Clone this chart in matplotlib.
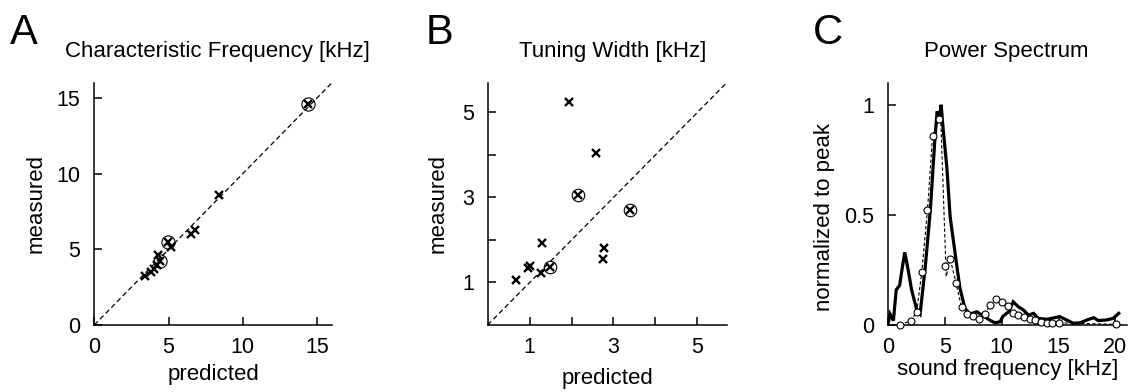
import matplotlib
matplotlib.use("Agg")
import matplotlib.pyplot as plt
from matplotlib.ticker import FixedLocator, FixedFormatter

plt.rcParams['font.family'] = ['Liberation Sans', 'DejaVu Sans']

# ---- Panel A: characteristic frequency (kHz) ----
cf_pred = [3.4, 3.8, 4.0, 4.2, 4.3, 4.4, 4.95, 5.15, 6.5, 6.8, 8.4, 14.4]
cf_meas = [3.25, 3.5, 3.7, 3.95, 4.6, 4.2, 5.45, 5.15, 6.0, 6.25, 8.6, 14.6]
cf_circ_pred = [4.4, 4.95, 14.4]
cf_circ_meas = [4.2, 5.5, 14.6]
cf_ticks = [0, 5, 10, 15]
cf_lim = 16

# ---- Panel B: tuning width (kHz) ----
tw_pred = [1.95, 2.59, 2.16, 3.40, 1.30, 2.78, 2.75, 1.01, 0.95, 1.49, 1.27, 0.67]
tw_meas = [5.24, 4.05, 3.05, 2.70, 1.93, 1.80, 1.56, 1.38, 1.33, 1.37, 1.23, 1.07]
tw_circ_pred = [2.16, 3.40, 1.49]
tw_circ_meas = [3.05, 2.70, 1.37]
tw_ticks = [1, 2, 3, 4, 5]
tw_ticklabels = ['1', '', '3', '', '5']
tw_lim = 5.7

# ---- Panel C: power spectrum ----
spec_freq = [0, 0.15, 0.45, 0.7, 1.0, 1.2, 1.45, 1.75, 2.05, 2.5, 2.8, 3.25,
             3.7, 4.1, 4.3, 4.5, 4.65, 4.85, 5.15, 5.45, 5.9, 6.3, 6.75, 7.2,
             7.8, 8.4, 9.0, 9.4, 9.85, 10.1, 10.6, 11.0, 11.45, 11.9, 12.35,
             12.8, 13.2, 14.0, 15.1, 15.7, 16.3, 16.9, 17.5, 18.1, 18.5, 19.25,
             19.8, 20.3]
spec_power = [0.01, 0.05, 0.02, 0.16, 0.18, 0.25, 0.33, 0.25, 0.16, 0.07, 0.05,
              0.26, 0.52, 0.84, 0.97, 0.94, 1.0, 0.88, 0.72, 0.49, 0.32, 0.17,
              0.075, 0.05, 0.06, 0.04, 0.02, 0.01, 0.015, 0.04, 0.06, 0.105,
              0.083, 0.068, 0.045, 0.053, 0.03, 0.026, 0.038, 0.023, 0.008,
              0.01, 0.023, 0.033, 0.02, 0.023, 0.03, 0.053]
model_freq = [1.0, 2.0, 2.5, 2.95, 3.45, 3.9, 4.45, 5.0, 5.45, 5.97, 6.45, 6.97,
              7.5, 8.0, 8.5, 8.97, 9.5, 10.0, 10.5, 10.97, 11.45, 11.97, 12.45,
              12.95, 13.45, 13.97, 14.45, 15.0, 20.05]
model_power = [0.0, 0.02, 0.06, 0.24, 0.52, 0.86, 0.935, 0.27, 0.30, 0.19, 0.08,
               0.05, 0.04, 0.027, 0.048, 0.09, 0.116, 0.105, 0.086, 0.056,
               0.045, 0.035, 0.026, 0.023, 0.015, 0.01, 0.01, 0.01, 0.003]
trace_freq = [1.0, 2.0, 2.5, 2.95, 3.45, 3.9, 4.45, 4.58, 5.1, 5.45, 5.97, 6.45,
              6.97, 7.5, 8.0, 8.5, 8.97, 9.5, 10.0, 10.5, 10.97, 11.45, 11.97,
              12.45, 12.95, 13.45, 13.97, 14.45, 15.0, 20.05]
trace_power = [0.0, 0.02, 0.06, 0.24, 0.52, 0.86, 0.935, 1.0, 0.22, 0.30, 0.19,
               0.08, 0.05, 0.04, 0.027, 0.048, 0.09, 0.116, 0.105, 0.086, 0.056,
               0.045, 0.035, 0.026, 0.023, 0.015, 0.01, 0.01, 0.01, 0.003]
spec_xticks = [0, 5, 10, 15, 20]
spec_yticks = [0, 0.5, 1]
spec_yticklabels = ['0', '0.5', '1']

W, H = 1133, 392
fig = plt.figure(figsize=(W / 100, H / 100), dpi=100)


def add_axes_px(left, top, right, bottom):
    return fig.add_axes([left / W, 1 - bottom / H, (right - left) / W, (bottom - top) / H])


def style(ax):
    for s in ('top', 'right'):
        ax.spines[s].set_visible(False)
    for s in ('left', 'bottom'):
        ax.spines[s].set_linewidth(1.1)
    ax.tick_params(direction='in', length=5.8, width=1.1, labelsize=15.5)
    ax.tick_params(axis='y', pad=10)
    ax.tick_params(axis='x', pad=8.5)


dash = (0, (4, 2.5))

axA = add_axes_px(94.3, 82.7, 332, 325)
axB = add_axes_px(487.7, 82.7, 726.7, 325)
axC = add_axes_px(888.3, 82.7, 1126.7, 325)

# A
style(axA)
axA.plot([0, cf_lim], [0, cf_lim], ls=dash, lw=0.9, color='k')
axA.plot(cf_pred, cf_meas, 'x', ms=6, mew=1.7, color='k')
axA.plot(cf_circ_pred, cf_circ_meas, 'o', ms=9.5, mfc='none', mec='k', mew=0.8)
axA.set_xlim(0, cf_lim)
axA.set_ylim(0, cf_lim)
axA.set_xticks(cf_ticks)
axA.set_yticks(cf_ticks)
axA.set_xlabel('predicted', fontsize=16, labelpad=4.5)
axA.set_ylabel('measured', fontsize=16, labelpad=7)

# B
style(axB)
axB.plot([0, tw_lim], [0, tw_lim], ls=dash, lw=0.9, color='k')
axB.plot(tw_pred, tw_meas, 'x', ms=5.5, mew=1.7, color='k')
axB.plot(tw_circ_pred, tw_circ_meas, 'o', ms=9, mfc='none', mec='k', mew=0.8)
axB.set_xlim(0, tw_lim)
axB.set_ylim(0, tw_lim)
for axis in (axB.xaxis, axB.yaxis):
    axis.set_major_locator(FixedLocator(tw_ticks))
    axis.set_major_formatter(FixedFormatter(tw_ticklabels))
axB.set_xlabel('predicted', fontsize=16, labelpad=7)
axB.set_ylabel('measured', fontsize=16, labelpad=9.5)

# C
style(axC)
axC.plot(spec_freq, spec_power, '-', lw=2.3, color='k', solid_joinstyle='miter')
axC.plot(trace_freq, trace_power, ls=(0, (3, 2)), lw=0.8, color='k')
axC.plot(model_freq, model_power, 'o', ms=5, mfc='white', mec='k', mew=0.8,
         clip_on=False, zorder=3)
axC.set_xlim(0, 21)
axC.set_ylim(0, 1.1)
axC.set_xticks(spec_xticks)
axC.yaxis.set_major_locator(FixedLocator(spec_yticks))
axC.yaxis.set_major_formatter(FixedFormatter(spec_yticklabels))
axC.set_xlabel('sound frequency [kHz]', fontsize=16, labelpad=0.5)
axC.set_ylabel('normalized to peak', fontsize=16, labelpad=7)
axC.yaxis.label.set_y(0.447)

# titles and panel letters
title_y = 1 - 57 / H
fig.text(217 / W, title_y, 'Characteristic Frequency [kHz]', fontsize=16,
         ha='center', va='baseline')
fig.text(613 / W, title_y, 'Tuning Width [kHz]', fontsize=16,
         ha='center', va='baseline')
fig.text(1006 / W, title_y, 'Power Spectrum', fontsize=16,
         ha='center', va='baseline')

letter_y = 1 - 43.5 / H
fig.text(10 / W, letter_y, 'A', fontsize=30, ha='left', va='baseline')
fig.text(425.5 / W, letter_y, 'B', fontsize=30, ha='left', va='baseline')
fig.text(813 / W, letter_y, 'C', fontsize=30, ha='left', va='baseline')

fig.savefig('out.png', dpi=100)
